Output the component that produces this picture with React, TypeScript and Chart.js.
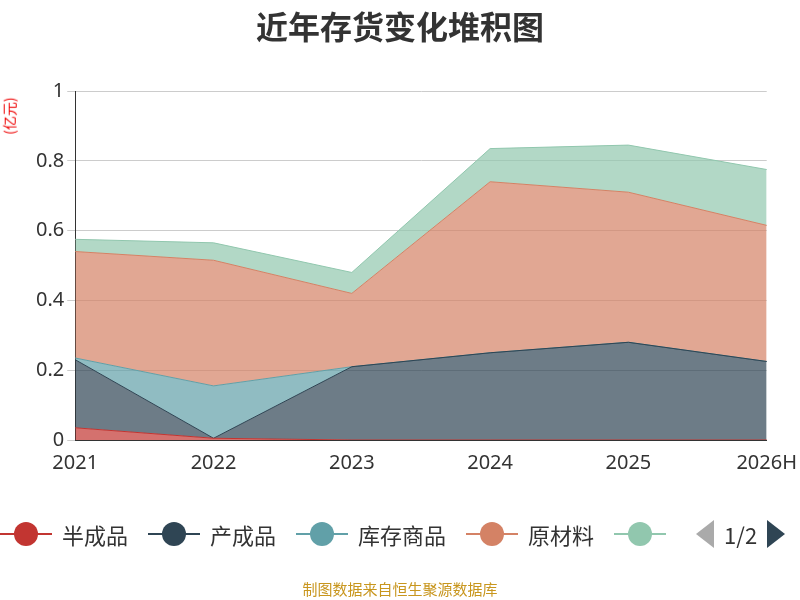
import React, { useEffect, useRef } from "react";
import { Chart, registerables } from "chart.js";
Chart.register(...registerables);

const categories = ["2021", "2022", "2023", "2024", "2025", "2026H"];
const seriesNames = ["半成品", "产成品", "库存商品", "原材料", "在产品"];
const banChengPin = [0.035, 0.005, 0, 0, 0, 0];
const chanChengPin = [0.195, 0, 0.21, 0.25, 0.28, 0.225];
const kuCunShangPin = [0.005, 0.15, 0, 0, 0, 0];
const yuanCaiLiao = [0.305, 0.36, 0.21, 0.49, 0.43, 0.39];
const zaiChanPin = [0.035, 0.05, 0.06, 0.095, 0.135, 0.16];
const colors = ["#c23531", "#2f4554", "#61a0a8", "#d48265", "#91c7ae"];
const fills = ["rgba(194,53,49,0.7)", "rgba(47,69,84,0.7)", "rgba(97,160,168,0.7)", "rgba(212,130,101,0.7)", "rgba(145,199,174,0.7)"];
const values = [banChengPin, chanChengPin, kuCunShangPin, yuanCaiLiao, zaiChanPin];

export default function App() {
  const ref = useRef<HTMLCanvasElement>(null);
  useEffect(() => {
    const chart = new Chart(ref.current!, {
      type: "line",
      data: {
        labels: categories,
        datasets: values.map((v, i) => ({
          label: seriesNames[i],
          data: v,
          borderColor: colors[i],
          backgroundColor: fills[i],
          borderWidth: 1,
          pointRadius: 0,
          fill: i === 0 ? "origin" : "-1",
          tension: 0,
        })),
      },
      options: {
        animation: false,
        responsive: false,
        layout: { padding: { top: 91, right: 31, bottom: 122, left: 33 } },
        plugins: { legend: { display: false }, tooltip: { enabled: false } },
        scales: {
          x: {
            offset: false,
            grid: { display: false, drawTicks: true },
            border: { color: "#333", width: 1 },
            ticks: { color: "#333", font: { size: 20, family: "Noto Sans" } },
          },
          y: {
            stacked: true,
            min: 0,
            max: 1,
            ticks: { stepSize: 0.2, color: "#333", font: { size: 20, family: "Noto Sans" }, callback: (v: any) => (v === 0 || v === 1 ? String(v) : Number(v).toFixed(1)) },
            grid: { color: "#ccc" },
            border: { color: "#333" },
          },
        },
      },
    });
    return () => chart.destroy();
  }, []);
  const legendItem = (i: number, text?: string) => (
    <div key={i} style={{ display: "flex", alignItems: "center", marginRight: 20 }}>
      <div style={{ position: "relative", width: 52, height: 26 }}>
        <div style={{ position: "absolute", top: 12, left: 0, width: 52, height: 2, background: colors[i] }} />
        <div style={{ position: "absolute", top: 1, left: 14, width: 24, height: 24, borderRadius: 12, background: colors[i] }} />
      </div>
      {text && <span style={{ marginLeft: 10, fontSize: 22, color: "#333" }}>{text}</span>}
    </div>
  );
  return (
    <div style={{ position: "absolute", left: 0, top: 0, width: 800, height: 600, fontFamily: "Noto Sans CJK SC", background: "#fff", overflow: "hidden" }}>
      <canvas ref={ref} width={800} height={600} style={{ position: "absolute", left: 0, top: 0 }} />
      <div style={{ position: "absolute", top: 2, width: 800, textAlign: "center", fontSize: 32, fontWeight: "bold", color: "#333" }}>近年存货变化堆积图</div>
      <div style={{ position: "absolute", left: -10, top: 106, transform: "rotate(-90deg)", fontSize: 14, color: "#e00" }}>(亿元)</div>
      <div style={{ position: "absolute", left: 0, top: 518, display: "flex", alignItems: "center" }}>
        {legendItem(0, seriesNames[0])}
        {legendItem(1, seriesNames[1])}
        {legendItem(2, seriesNames[2])}
        {legendItem(3, seriesNames[3])}
        {legendItem(4)}
        <div style={{ width: 0, height: 0, borderTop: "14px solid transparent", borderBottom: "14px solid transparent", borderRight: "18px solid #aaa", marginLeft: 10 }} />
        <span style={{ fontSize: 22, color: "#333", margin: "0 10px" }}>1/2</span>
        <div style={{ width: 0, height: 0, borderTop: "14px solid transparent", borderBottom: "14px solid transparent", borderLeft: "18px solid #2f4554" }} />
      </div>
      <div style={{ position: "absolute", top: 578, width: 800, textAlign: "center", fontSize: 15, color: "#c8961e" }}>制图数据来自恒生聚源数据库</div>
    </div>
  );
}
